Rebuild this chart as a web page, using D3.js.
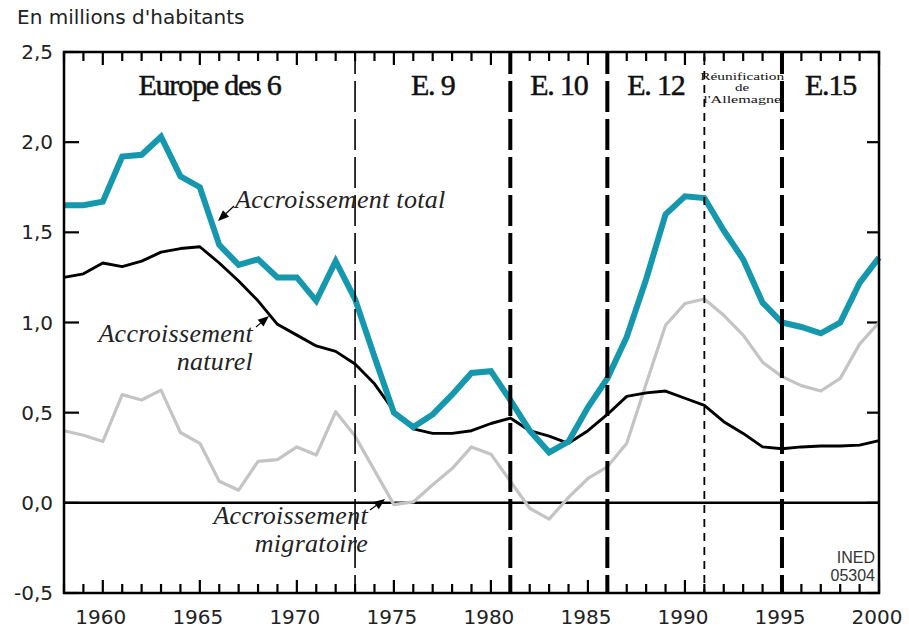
<!DOCTYPE html>
<html lang="fr">
<head>
<meta charset="UTF-8">
<title>Accroissement de la population - Europe</title>
<script src="https://d3js.org/d3.v7.min.js"></script>
<style>
  body { margin: 0; background: #fff; }
  svg { display: block; }
</style>
</head>
<body>
<div id="chart"></div>
<script>
// years 1958 -> 2000
const years = d3.range(1958, 2001);

// en millions d'habitants
const total = [1.65, 1.65, 1.67, 1.92, 1.93, 2.03, 1.81, 1.75, 1.43, 1.32,
               1.35, 1.25, 1.25, 1.12, 1.34, 1.13, 0.81, 0.50, 0.42, 0.49,
               0.60, 0.72, 0.73, 0.57, 0.40, 0.28, 0.34, 0.53, 0.69, 0.92,
               1.24, 1.60, 1.70, 1.69, 1.51, 1.35, 1.11, 1.00, 0.975, 0.94,
               1.00, 1.22, 1.36];
const naturel = [1.25, 1.27, 1.33, 1.31, 1.34, 1.39, 1.41, 1.42, 1.33, 1.23,
                 1.12, 0.99, 0.93, 0.87, 0.84, 0.77, 0.66, 0.51, 0.41, 0.385,
                 0.385, 0.40, 0.44, 0.47, 0.40, 0.37, 0.33, 0.40, 0.49, 0.59,
                 0.61, 0.62, 0.58, 0.54, 0.45, 0.385, 0.31, 0.30, 0.31, 0.315,
                 0.315, 0.32, 0.345];
const migratoire = [0.40, 0.375, 0.34, 0.60, 0.57, 0.625, 0.39, 0.33, 0.12, 0.07,
                    0.23, 0.24, 0.31, 0.265, 0.505, 0.37, 0.18, -0.01, 0.005, 0.10,
                    0.19, 0.31, 0.27, 0.12, -0.03, -0.09, 0.03, 0.135, 0.20, 0.33,
                    0.66, 0.985, 1.105, 1.13, 1.04, 0.93, 0.78, 0.70, 0.65, 0.62,
                    0.69, 0.88, 1.00];

const yTicks = [-0.5, 0, 0.5, 1, 1.5, 2, 2.5];
const xLabels = [1960, 1965, 1970, 1975, 1980, 1985, 1990, 1995, 2000];

// enlargements of the EU (vertical separators)
const bounds = [1958, 1973, 1981, 1986, 1991, 1995, 2000];
const periodNames = ['Europe des 6', 'E. 9', 'E. 10', 'E. 12', null, 'E.15'];

const W = 909, H = 629;
const margin = {left: 64, right: 30, top: 52, bottom: 36};

const svg = d3.select('#chart').append('svg')
    .attr('width', W)
    .attr('height', H);

const x = d3.scaleLinear().domain([1958, 2000]).range([margin.left, W - margin.right]);
const y = d3.scaleLinear().domain([-0.5, 2.5]).range([H - margin.bottom, margin.top]);

const x0 = x.range()[0], x1 = x.range()[1];
const y0 = y.range()[0], y1 = y.range()[1];

// title
svg.append('text')
    .attr('x', 17)
    .attr('y', 24)
    .attr('font-family', 'DejaVu Sans, sans-serif')
    .attr('font-size', 20)
    .attr('fill', '#222')
    .text("En millions d'habitants");

// y labels
svg.selectAll('.ylab')
    .data(yTicks)
    .enter()
    .append('text')
    .attr('class', 'ylab')
    .attr('x', 53)
    .attr('y', d => y(d) + 7)
    .attr('text-anchor', 'end')
    .attr('font-family', 'DejaVu Sans, sans-serif')
    .attr('font-size', 20)
    .attr('fill', '#222')
    .text(d => d3.format('.1f')(d).replace('.', ',').replace('−', '-'));

// x labels
svg.selectAll('.xlab')
    .data(xLabels)
    .enter()
    .append('text')
    .attr('class', 'xlab')
    .attr('x', d => x(d) - 2)
    .attr('y', 624)
    .attr('text-anchor', 'middle')
    .attr('font-family', 'DejaVu Sans, sans-serif')
    .attr('font-size', 20)
    .attr('fill', '#222')
    .text(d => d);

// year ticks, top and bottom, pointing inward
const ticks = svg.append('g').attr('stroke', '#000').attr('stroke-width', 2.2);
years.forEach(yr => {
    const len = yr % 5 === 0 ? 13 : 9;
    ticks.append('line').attr('x1', x(yr)).attr('x2', x(yr)).attr('y1', y1).attr('y2', y1 + len);
    ticks.append('line').attr('x1', x(yr)).attr('x2', x(yr)).attr('y1', y0).attr('y2', y0 - len);
});
yTicks.forEach(v => {
    ticks.append('line').attr('x1', x0).attr('x2', x0 + 15).attr('y1', y(v)).attr('y2', y(v));
    ticks.append('line').attr('x1', x1).attr('x2', x1 - 12).attr('y1', y(v)).attr('y2', y(v));
});

// zero line
svg.append('line')
    .attr('x1', x0).attr('x2', x1)
    .attr('y1', y(0)).attr('y2', y(0))
    .attr('stroke', '#000')
    .attr('stroke-width', 2.5);

// series
const line = d3.line()
    .x((d, i) => x(years[i]))
    .y(d => y(d));

svg.append('path')
    .datum(migratoire)
    .attr('d', line)
    .attr('fill', 'none')
    .attr('stroke', '#c4c4c4')
    .attr('stroke-width', 3.2)
    .attr('stroke-linejoin', 'round');

svg.append('path')
    .datum(naturel)
    .attr('d', line)
    .attr('fill', 'none')
    .attr('stroke', '#000')
    .attr('stroke-width', 2.9)
    .attr('stroke-linejoin', 'round');

svg.append('path')
    .datum(total)
    .attr('d', line)
    .attr('fill', 'none')
    .attr('stroke', '#1597ad')
    .attr('stroke-width', 6)
    .attr('stroke-linejoin', 'miter');

// period separators
const sepStyle = {
    1973: {w: 1.6, dash: '31,7'},
    1981: {w: 4, dash: '31,7'},
    1986: {w: 4, dash: '31,7'},
    1991: {w: 1.8, dash: '8,6'},
    1995: {w: 4, dash: '31,7'}
};
bounds.slice(1, -1).forEach(b => {
    svg.append('line')
        .attr('x1', x(b)).attr('x2', x(b))
        .attr('y1', y1).attr('y2', y0)
        .attr('stroke', '#000')
        .attr('stroke-width', sepStyle[b].w)
        .attr('stroke-dasharray', sepStyle[b].dash)
        .attr('stroke-dashoffset', 9);
});

// frame
svg.append('rect')
    .attr('x', x0).attr('y', y1)
    .attr('width', x1 - x0).attr('height', y0 - y1)
    .attr('fill', 'none')
    .attr('stroke', '#000')
    .attr('stroke-width', 2.5);

// period names
periodNames.forEach((name, i) => {
    if (!name) return;
    svg.append('text')
        .attr('x', (x(bounds[i]) + x(bounds[i + 1])) / 2)
        .attr('y', 95)
        .attr('text-anchor', 'middle')
        .attr('font-family', 'Liberation Serif, serif')
        .attr('font-size', 30)
        .attr('letter-spacing', -1.2)
        .attr('fill', '#111')
        .attr('stroke', '#111')
        .attr('stroke-width', 0.5)
        .text(name);
});

// reunification note (squeezed like the original)
const reuX = (x(1991) + x(1995)) / 2 - 1;
const reu = svg.append('g')
    .attr('transform', `translate(${reuX},0) scale(1,0.7)`);
[['Réunification', 84], ['de', 0], ["l'Allemagne", 78]].forEach(([t, len], i) => {
    const tx = reu.append('text')
        .attr('x', 0)
        .attr('y', (80 + i * 11.5) / 0.7)
        .attr('text-anchor', 'middle')
        .attr('font-family', 'Liberation Serif, serif')
        .attr('font-size', 15)
        .attr('fill', '#111')
        .text(t);
    if (len) tx.attr('textLength', len).attr('lengthAdjust', 'spacingAndGlyphs');
});

// series labels (one text element, one tspan per line)
function label(lines, ax, ay, anchor) {
    const t = svg.append('text')
        .attr('x', ax)
        .attr('y', ay)
        .attr('text-anchor', anchor)
        .attr('font-family', 'Liberation Serif, serif')
        .attr('font-style', 'italic')
        .attr('font-size', 26)
        .attr('letter-spacing', 0.3)
        .attr('fill', '#222');
    lines.forEach((s, i) => {
        t.append('tspan')
            .attr('x', ax)
            .attr('dy', i === 0 ? 0 : 28)
            .text(s);
    });
}
label(['Accroissement total'], 235, 208, 'start');
label(['Accroissement', 'naturel'], 253, 342, 'end');
label(['Accroissement', 'migratoire'], 368, 524, 'end');

// little arrows
function arrow(xa, ya, xb, yb) {
    const ang = Math.atan2(yb - ya, xb - xa);
    const L = 11, hw = 4.5;
    const bx = xb - L * Math.cos(ang), by = yb - L * Math.sin(ang);
    svg.append('line')
        .attr('x1', xa).attr('y1', ya).attr('x2', bx).attr('y2', by)
        .attr('stroke', '#000').attr('stroke-width', 1.2);
    svg.append('path')
        .attr('d', `M${xb},${yb}L${bx - hw * Math.sin(ang)},${by + hw * Math.cos(ang)}L${bx + hw * Math.sin(ang)},${by - hw * Math.cos(ang)}Z`)
        .attr('fill', '#000');
}
arrow(234, 206, 218, 221);
arrow(256, 327, 269, 316);
arrow(370, 510, 385, 499);

// source
['INED', '05304'].forEach((t, i) => {
    svg.append('text')
        .attr('x', 875)
        .attr('y', 563 + i * 18)
        .attr('text-anchor', 'end')
        .attr('font-family', 'Liberation Sans, sans-serif')
        .attr('font-size', 16)
        .attr('fill', '#333')
        .text(t);
});
</script>
</body>
</html>
